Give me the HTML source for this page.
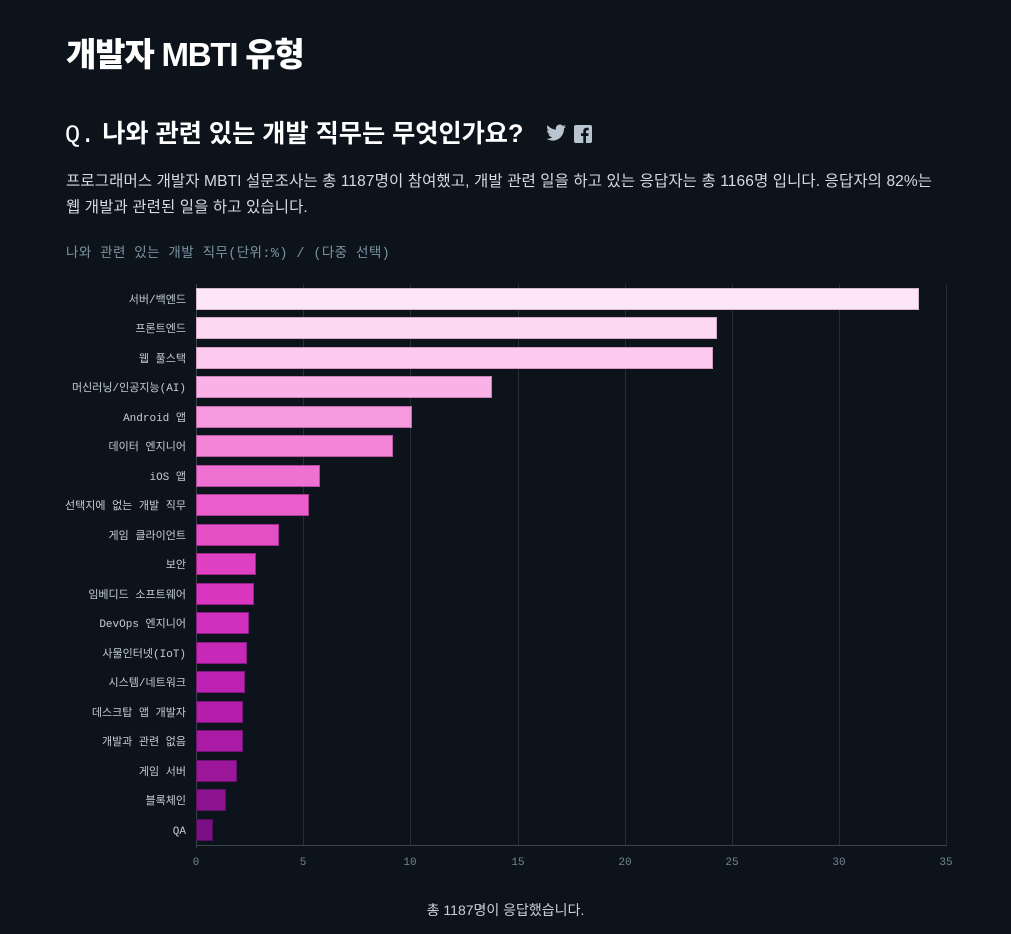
<!DOCTYPE html>
<html><head><meta charset="utf-8"><style>
html,body{margin:0;padding:0;background:#0d131a;width:1011px;height:934px;overflow:hidden}
body{font-family:"Liberation Sans","Noto Sans CJK KR",sans-serif;color:#fff;position:relative}
.t{position:absolute;white-space:nowrap}
</style></head><body>
<div class="t" style="left:66px;top:28px;font-size:33px;font-weight:900;letter-spacing:-1.2px">개발자 MBTI 유형</div>
<div class="t" style="left:65px;top:114px;font-size:25.2px;font-weight:700"><span style="font-family:'Liberation Mono',monospace;font-weight:400">Q.</span> 나와 관련 있는 개발 직무는 무엇인가요?</div>
<svg class="t" style="left:546px;top:123px" width="48" height="20" viewBox="0 0 48 20">
<path d="M20 3.5c-.7.3-1.5.5-2.3.6.8-.5 1.5-1.3 1.8-2.2-.8.5-1.7.8-2.6 1a4 4 0 0 0-6.9 3.7C6.6 6.4 3.6 4.8 1.6 2.3a4 4 0 0 0 1.2 5.4c-.7 0-1.300-.2-1.8-.5 0 2 1.4 3.6 3.2 4-.6.2-1.2.2-1.8.1.5 1.6 2 2.8 3.8 2.8A8 8 0 0 1 .3 15.8 11.5 11.5 0 0 0 18 6.1v-.5c.8-.6 1.5-1.3 2-2.1z" fill="#b8c4cf"/>
<rect x="28" y="2" width="18" height="18" rx="2" fill="#b8c4cf"/>
<path d="M40 20v-7h2.3l.4-2.7H40V8.6c0-.8.2-1.3 1.3-1.3h1.4V4.9c-.3 0-1.1-.1-2-.1-2 0-3.4 1.200-3.4 3.5v2H35V13h2.3v7z" fill="#0d131a"/>
</svg>
<div class="t" style="left:66px;top:169px;font-size:15.5px;line-height:26px;color:#d5dbe2;white-space:normal;width:900px;letter-spacing:0.1px">프로그래머스 개발자 MBTI 설문조사는 총 1187명이 참여했고, 개발 관련 일을 하고 있는 응답자는 총 1166명 입니다. 응답자의 82%는<br>웹 개발과 관련된 일을 하고 있습니다.</div>
<div class="t" style="left:66px;top:241px;font-size:13.5px;color:#7c93a3;letter-spacing:0.4px;font-family:'Liberation Mono','Noto Sans CJK KR',monospace">나와 관련 있는 개발 직무(단위:%) / (다중 선택)</div>
<div class="t" style="left:0;width:1011px;text-align:center;top:900px;font-size:14px;color:#c8d0d8">총 1187명이 응답했습니다.</div>
<svg class="t" style="left:0;top:0" width="1011" height="934" font-family="'Liberation Mono','Noto Sans CJK KR',monospace">
<g stroke="#262e37" stroke-width="1">
<line x1="303.5" y1="284" x2="303.5" y2="845"/><line x1="410.5" y1="284" x2="410.5" y2="845"/><line x1="518.5" y1="284" x2="518.5" y2="845"/><line x1="625.5" y1="284" x2="625.5" y2="845"/><line x1="732.5" y1="284" x2="732.5" y2="845"/><line x1="839.5" y1="284" x2="839.5" y2="845"/><line x1="946.5" y1="284" x2="946.5" y2="845"/>
</g>
<line x1="196.5" y1="284" x2="196.5" y2="848" stroke="#3a434d"/>
<line x1="196" y1="845.5" x2="947" y2="845.5" stroke="#3a434d"/>
<g font-size="11" fill="#6f8696" text-anchor="middle">
<text x="196" y="865">0</text><text x="303" y="865">5</text><text x="410" y="865">10</text><text x="518" y="865">15</text><text x="625" y="865">20</text><text x="732" y="865">25</text><text x="839" y="865">30</text><text x="946" y="865">35</text>
</g>
<g stroke-width="1">
<rect x="196.5" y="288.5" width="722" height="21" fill="#fde6f8" stroke="#d9b6cf"/>
<rect x="196.5" y="317.5" width="520" height="21" fill="#fcd8f3" stroke="#d6aacb"/>
<rect x="196.5" y="347.5" width="516" height="21" fill="#fbcaee" stroke="#d09cc4"/>
<rect x="196.5" y="376.5" width="295" height="21" fill="#f9b1e6" stroke="#c883b7"/>
<rect x="196.5" y="406.5" width="215" height="21" fill="#f799de" stroke="#c26eab"/>
<rect x="196.5" y="435.5" width="196" height="21" fill="#f384d7" stroke="#bb5ca2"/>
<rect x="196.5" y="465.5" width="123" height="21" fill="#ef71d1" stroke="#b44c9b"/>
<rect x="196.5" y="494.5" width="112" height="21" fill="#ea5fcb" stroke="#ab3c94"/>
<rect x="196.5" y="524.5" width="82" height="21" fill="#e54fc6" stroke="#a3308e"/>
<rect x="196.5" y="553.5" width="59" height="21" fill="#e041c3" stroke="#9c2889"/>
<rect x="196.5" y="583.5" width="57" height="21" fill="#d937c0" stroke="#94228a"/>
<rect x="196.5" y="612.5" width="52" height="21" fill="#d12fbd" stroke="#8c1d86"/>
<rect x="196.5" y="642.5" width="50" height="21" fill="#c828b8" stroke="#861a82"/>
<rect x="196.5" y="671.5" width="48" height="21" fill="#be22b2" stroke="#80187e"/>
<rect x="196.5" y="701.5" width="46" height="21" fill="#b41eab" stroke="#79167a"/>
<rect x="196.5" y="730.5" width="46" height="21" fill="#aa1aa4" stroke="#721476"/>
<rect x="196.5" y="760.5" width="40" height="21" fill="#9c169a" stroke="#681270"/>
<rect x="196.5" y="789.5" width="29" height="21" fill="#8c1290" stroke="#5e1068"/>
<rect x="196.5" y="819.5" width="16" height="21" fill="#7b1084" stroke="#520e5e"/>
</g>
<g font-size="11" fill="#c3ccd5" text-anchor="end">
<text x="186" y="303">서버/백엔드</text>
<text x="186" y="332">프론트엔드</text>
<text x="186" y="362">웹 풀스택</text>
<text x="186" y="391">머신러닝/인공지능(AI)</text>
<text x="186" y="421">Android 앱</text>
<text x="186" y="450">데이터 엔지니어</text>
<text x="186" y="480">iOS 앱</text>
<text x="186" y="509">선택지에 없는 개발 직무</text>
<text x="186" y="539">게임 클라이언트</text>
<text x="186" y="568">보안</text>
<text x="186" y="598">임베디드 소프트웨어</text>
<text x="186" y="627">DevOps 엔지니어</text>
<text x="186" y="657">사물인터넷(IoT)</text>
<text x="186" y="686">시스템/네트워크</text>
<text x="186" y="716">데스크탑 앱 개발자</text>
<text x="186" y="745">개발과 관련 없음</text>
<text x="186" y="775">게임 서버</text>
<text x="186" y="804">블록체인</text>
<text x="186" y="834">QA</text>
</g>
</svg>
</body></html>
